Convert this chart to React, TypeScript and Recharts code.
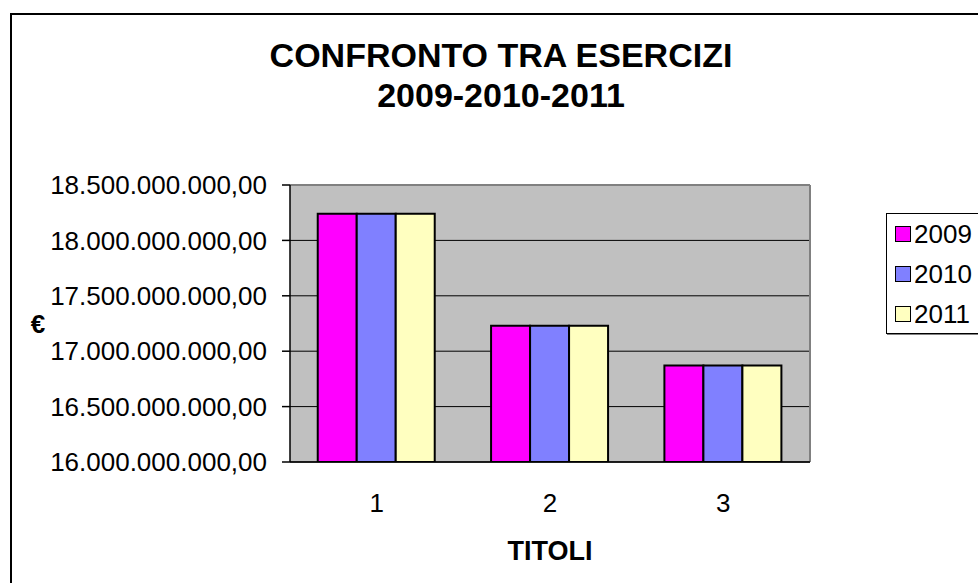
import React from 'react';
import {
  BarChart,
  Bar,
  XAxis,
  YAxis,
  CartesianGrid,
  Legend,
  ReferenceLine,
} from 'recharts';

const categories = ['1', '2', '3'];
const values2009 = [18240000000, 17230000000, 16870000000];
const values2010 = [18240000000, 17230000000, 16870000000];
const values2011 = [18240000000, 17230000000, 16870000000];
const seriesNames = ['2009', '2010', '2011'];
const seriesColors = ['#FF00FF', '#8080FF', '#FFFFC0'];
const yTicks = [16000000000, 16500000000, 17000000000, 17500000000, 18000000000, 18500000000];
const boundaryTicks = [0, 1, 2, 3];
const titleLines = ['CONFRONTO TRA ESERCIZI', '2009-2010-2011'];
const xTitle = 'TITOLI';
const yTitle = '€';

const data = categories.map((c, i) => ({
  name: c,
  pos: i + 0.5,
  s2009: values2009[i],
  s2010: values2010[i],
  s2011: values2011[i],
}));
const seriesKeys = ['s2009', 's2010', 's2011'];

const FONT = '"Liberation Sans", Arial, Helvetica, sans-serif';

function formatIt(n: number): string {
  const intPart = Math.round(n).toString();
  const withDots = intPart.replace(/\B(?=(\d{3})+(?!\d))/g, '.');
  return withDots + ',00';
}

const LegendContent = () => (
  <div
    style={{
      width: 110,
      height: 121,
      boxSizing: 'border-box',
      border: '1px solid #000',
      boxShadow: '1px 1px 0 #808080',
      background: '#fff',
      fontFamily: FONT,
      fontSize: 26,
      color: '#000',
    }}
  >
    {seriesNames.map((n, i) => (
      <div
        key={n}
        style={{ height: 40, display: 'flex', alignItems: 'center', paddingLeft: 8 }}
      >
        <span
          style={{
            display: 'inline-block',
            width: 14,
            height: 14,
            background: seriesColors[i],
            border: '1.5px solid #000',
            marginRight: 3,
          }}
        />
        <span style={{ lineHeight: '26px' }}>{n}</span>
      </div>
    ))}
  </div>
);

export default function App() {
  return (
    <div
      style={{
        position: 'fixed',
        left: 0,
        top: 0,
        width: 978,
        height: 583,
        overflow: 'hidden',
        background: '#fff',
        fontFamily: FONT,
      }}
    >
      <div
        style={{
          position: 'absolute',
          left: 10,
          top: 13,
          width: 1200,
          height: 1200,
          borderTop: '2px solid #000',
          borderLeft: '2px solid #000',
        }}
      />
      <div
        style={{
          position: 'absolute',
          left: 0,
          top: 35,
          width: 1002,
          textAlign: 'center',
          fontWeight: 'bold',
          fontSize: 34,
          lineHeight: '40px',
          color: '#000',
        }}
      >
        {titleLines.map((t) => (
          <div key={t}>{t}</div>
        ))}
      </div>
      <div style={{ position: 'absolute', left: 0, top: 0 }}>
        <BarChart
          width={978}
          height={583}
          data={data}
          margin={{ top: 185, right: 58, bottom: 81, left: 20 }}
          barGap={0}
          barCategoryGap="16%"
        >
          <CartesianGrid
            vertical={false}
            stroke="#000"
            strokeWidth={1}
            fill="#C0C0C0"
            fillOpacity={1}
          />
          <XAxis
            xAxisId="b"
            type="number"
            dataKey="pos"
            domain={[0, 3]}
            ticks={boundaryTicks}
            height={0}
            axisLine={false}
            tickLine={{ stroke: '#000', strokeWidth: 1.5 }}
            tickSize={8}
            tick={() => null}
            allowDecimals={false}
          />
          <XAxis
            dataKey="name"
            height={40}
            axisLine={{ stroke: '#000', strokeWidth: 1.5 }}
            tickLine={false}
            tickSize={8}
            tickMargin={24}
            tick={{ fill: '#000', fontSize: 26, fontFamily: FONT }}
            label={{
              content: (props: any) => {
                const vb = props.viewBox || {};
                return (
                  <text
                    x={vb.x + vb.width / 2}
                    y={vb.y + 98}
                    textAnchor="middle"
                    fontFamily={FONT}
                    fontWeight="bold"
                    fontSize={27}
                    fill="#000"
                  >
                    {xTitle}
                  </text>
                );
              },
            }}
          />
          <YAxis
            width={270}
            domain={[yTicks[0], yTicks[yTicks.length - 1]]}
            ticks={yTicks}
            interval={0}
            allowDataOverflow
            axisLine={{ stroke: '#000', strokeWidth: 1.5 }}
            tickLine={{ stroke: '#000', strokeWidth: 1.5 }}
            tickSize={8}
            tickMargin={15}
            tickFormatter={formatIt}
            tick={{ fill: '#000', fontSize: 26, fontFamily: FONT }}
            label={{
              content: (props: any) => {
                const vb = props.viewBox || {};
                return (
                  <text
                    x={vb.x + 18}
                    y={vb.y + vb.height / 2}
                    textAnchor="middle"
                    dominantBaseline="central"
                    fontFamily={FONT}
                    fontWeight="bold"
                    fontSize={26}
                    fill="#000"
                  >
                    {yTitle}
                  </text>
                );
              },
            }}
          />
          <ReferenceLine y={yTicks[yTicks.length - 1]} stroke="#808080" strokeWidth={2} />
          <ReferenceLine xAxisId="b" x={3} stroke="#808080" strokeWidth={2} />
          <Legend
            layout="vertical"
            align="right"
            verticalAlign="middle"
            content={<LegendContent />}
            wrapperStyle={{ left: 886, top: 213, width: 110, height: 121 }}
          />
          {seriesKeys.map((k, i) => (
            <Bar
              key={k}
              dataKey={k}
              name={seriesNames[i]}
              fill={seriesColors[i]}
              stroke="#000"
              strokeWidth={2}
              isAnimationActive={false}
            />
          ))}
        </BarChart>
      </div>
    </div>
  );
}
